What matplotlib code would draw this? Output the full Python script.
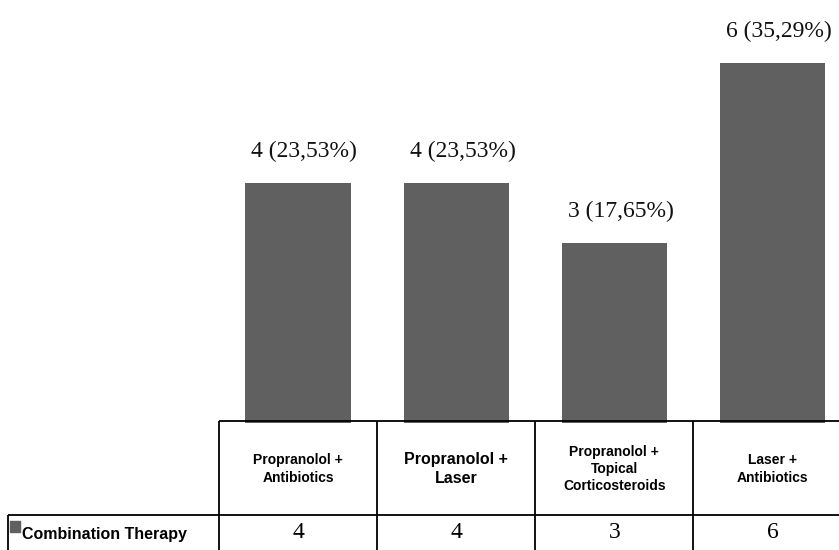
import matplotlib
matplotlib.use("Agg")
import matplotlib.pyplot as plt
from matplotlib.patches import Rectangle

therapies = ["Propranolol +\nAntibiotics", "Propranolol +\nLaser",
             "Propranolol +\nTopical\nCorticosteroids", "Laser +\nAntibiotics"]
counts = [4, 4, 3, 6]
percent_labels = ["23,53%", "23,53%", "17,65%", "35,29%"]
series_name = "Combination Therapy"

bar_color = "#606060"
serif = ["Liberation Serif", "DejaVu Serif"]
sans = ["Liberation Sans Narrow", "Liberation Sans", "DejaVu Sans"]

W, H = 839, 550
fig = plt.figure(figsize=(W / 100, H / 100), dpi=100)
ax = fig.add_axes([219 / W, 127 / H, 1 - 219 / W, 423 / H])

x = list(range(len(counts)))
bars = ax.bar(x, counts, width=0.665, color=bar_color)
ax.set_xlim(-0.5, 3.42)
ax.set_ylim(0, 7.05)
ax.axis("off")

for rect, n, p in zip(bars, counts, percent_labels):
    ax.annotate(f"{n} ({p})", (rect.get_x() + rect.get_width() / 2 + 0.04, rect.get_height()),
                xytext=(0, 15), textcoords="offset points", ha="center", va="bottom",
                fontsize=17, family=serif, color="#111111")

# table underneath the bars, in data units (1 unit = 60 px vertically)
def py(px):
    return (423 - px) / 60.0

kw = dict(color="black", lw=1.3, clip_on=False, solid_capstyle="butt")
ax.plot([-0.5, 3.6], [py(421), py(421)], **kw)
ax.plot([-1.835, 3.6], [py(515), py(515)], **kw)
ax.plot([-1.835, -1.835], [py(515), py(552)], **kw)
for b in [-0.5, 0.5, 1.5, 2.5]:
    ax.plot([b, b], [py(421), py(552)], **kw)

for i, (name, n) in enumerate(zip(therapies, counts)):
    fs = 11.5 if i == 1 else 10
    ax.text(i, py(469), name, ha="center", va="center", fontsize=fs,
            fontweight="bold", family=sans, linespacing=1.3, clip_on=False)
    ax.text(i, py(533), str(n), ha="center", va="center", fontsize=17,
            family=serif, clip_on=False)

# row header with legend key
fig.patches.append(Rectangle((10 / W, (550 - 532) / H), 10 / W, 11 / H,
                             transform=fig.transFigure, color=bar_color))
fig.text(22 / W, (550 - 534) / H, series_name, ha="left", va="center",
         fontsize=11.5, fontweight="bold", family=sans)

fig.savefig("out.png", dpi=100)
